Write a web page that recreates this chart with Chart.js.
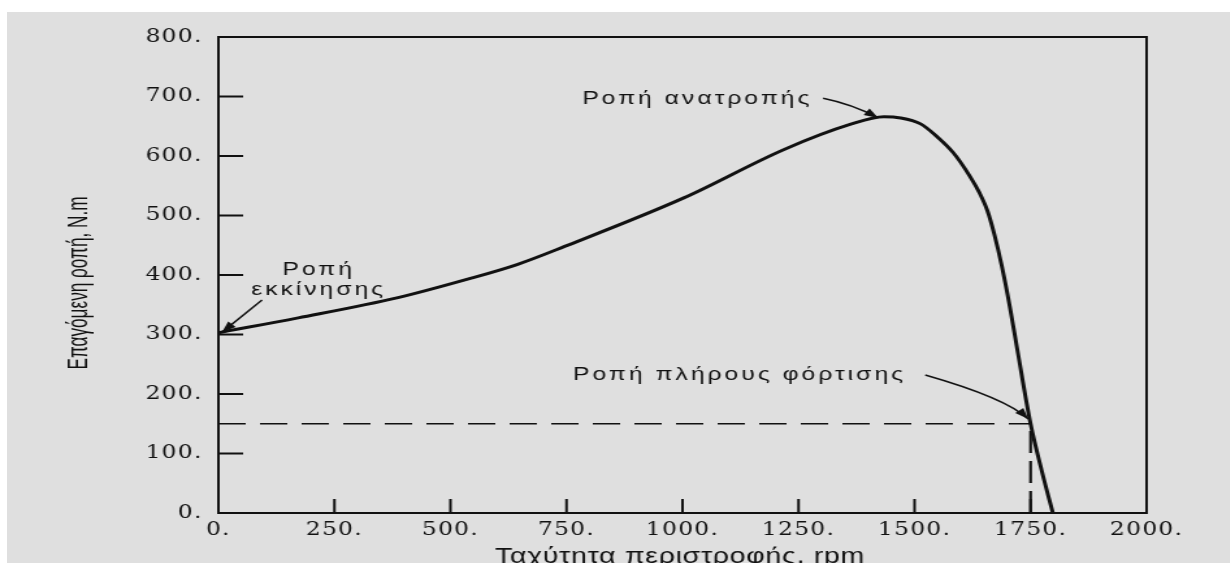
<!DOCTYPE html>
<html>
<head>
<meta charset="utf-8">
<script src="https://cdn.jsdelivr.net/npm/chart.js@4.4.1/dist/chart.umd.min.js"></script>
<style>
  html, body { margin: 0; padding: 0; background: #fff; }
  body { width: 1230px; height: 563px; overflow: hidden; position: relative; }
  .paper { position: absolute; left: 7px; top: 12px; right: 0; bottom: 0; background: #dfdfdf; }
  /* the scanned figure is stretched sideways, so the whole chart is too */
  .stretch { position: absolute; left: 0; top: 0; width: 946px; height: 563px;
             transform: scaleX(1.3); transform-origin: 0 0; }
</style>
</head>
<body>
<div class="paper"></div>
<div class="stretch"><canvas id="torque"></canvas></div>
<script>
// speed-torque curve of the induction motor
const speedRpm = [0, 172, 387, 537, 645, 746, 1004, 1219, 1361, 1434, 1470, 1513, 1545, 1584, 1620, 1640, 1657, 1672, 1688, 1705, 1722, 1750, 1775, 1798];
const torqueNm = [303, 328, 362, 393, 418, 448, 530, 611, 653, 666, 664, 654, 635, 605, 565, 538, 508, 468, 415, 348, 272, 150, 68, 0];

// full load operating point
const fullLoadRpm = 1750;
const fullLoadNm = 150;

// axes
const xMin = 0, xMax = 2000, xStep = 250;
const yMin = 0, yMax = 800, yStep = 100;
const xTitle = 'Ταχύτητα περιστροφής, rpm';
const yTitle = 'Επαγόμενη ροπή, N.m';

// labels with their arrows, in data units
const notes = [
  {lines: ['Ροπή ανατροπής'], at: [784, 697], align: 'left',
   arrow: {from: [1303, 697], via: [1366, 687], to: [1422, 664]}},
  {lines: ['Ροπή', 'εκκίνησης'], at: [216, 408], align: 'center',
   arrow: {from: [94, 358], to: [8, 304]}},
  {lines: ['Ροπή πλήρους φόρτισης'], at: [764, 232], align: 'left',
   arrow: {from: [1523, 232], via: [1698, 193], to: [1745, 158]}}
];

const INK = '#111';

function arrowHead(ctx, fx, fy, tx, ty){
  const a = Math.atan2(ty - fy, tx - fx);
  const len = 11, half = 4;
  ctx.beginPath();
  ctx.moveTo(tx, ty);
  ctx.lineTo(tx - len * Math.cos(a) + half * Math.sin(a), ty - len * Math.sin(a) - half * Math.cos(a));
  ctx.lineTo(tx - len * Math.cos(a) - half * Math.sin(a), ty - len * Math.sin(a) + half * Math.cos(a));
  ctx.closePath();
  ctx.fill();
}

const frameAndNotes = {
  id: 'frameAndNotes',
  beforeDraw(chart){
    // wide spacing for the tick numbers
    chart.ctx.letterSpacing = '1px';
  },
  beforeDatasetsDraw(chart){
    chart.ctx.letterSpacing = '0px';
  },
  afterDraw(chart){
    const {ctx, chartArea: a, scales: {x, y}} = chart;
    ctx.save();
    ctx.letterSpacing = '0px';
    ctx.strokeStyle = INK;
    ctx.fillStyle = INK;

    // box
    ctx.lineWidth = 2;
    ctx.strokeRect(a.left, a.top, a.right - a.left, a.bottom - a.top);

    // ticks pointing into the plot
    ctx.beginPath();
    y.ticks.forEach(t => {
      if(t.value <= yMin || t.value >= yMax) return;
      const py = y.getPixelForValue(t.value);
      ctx.moveTo(a.left, py);
      ctx.lineTo(a.left + 19, py);
    });
    x.ticks.forEach(t => {
      if(t.value <= xMin || t.value >= xMax) return;
      const px = x.getPixelForValue(t.value);
      ctx.moveTo(px, a.bottom);
      ctx.lineTo(px, a.bottom - 14);
    });
    ctx.stroke();

    // axis titles
    ctx.font = '22px "Liberation Sans", Arial, sans-serif';
    ctx.textAlign = 'center';
    ctx.textBaseline = 'alphabetic';
    ctx.letterSpacing = '0.5px';
    ctx.fillText(xTitle, (a.left + a.right) / 2 - 2, 563);
    ctx.letterSpacing = '0px';

    ctx.save();
    ctx.translate(61, 283);
    ctx.rotate(-Math.PI / 2);
    ctx.scale(0.78, 1);
    ctx.textBaseline = 'middle';
    ctx.fillText(yTitle, 0, 0);
    ctx.restore();

    // annotations
    ctx.font = '19px "Liberation Sans", Arial, sans-serif';
    ctx.letterSpacing = '2.3px';
    ctx.textBaseline = 'middle';
    notes.forEach(n => {
      ctx.textAlign = n.align;
      n.lines.forEach((line, i) => {
        ctx.fillText(line, x.getPixelForValue(n.at[0]), y.getPixelForValue(n.at[1]) + i * 20);
      });
      const f = [x.getPixelForValue(n.arrow.from[0]), y.getPixelForValue(n.arrow.from[1])];
      const t = [x.getPixelForValue(n.arrow.to[0]), y.getPixelForValue(n.arrow.to[1])];
      ctx.lineWidth = 1.5;
      ctx.beginPath();
      ctx.moveTo(f[0], f[1]);
      let back = f;
      if(n.arrow.via){
        const v = [x.getPixelForValue(n.arrow.via[0]), y.getPixelForValue(n.arrow.via[1])];
        ctx.quadraticCurveTo(v[0], v[1], t[0], t[1]);
        back = v;
      }else{
        ctx.lineTo(t[0], t[1]);
      }
      ctx.stroke();
      arrowHead(ctx, back[0], back[1], t[0], t[1]);
    });
    ctx.restore();
  }
};

const tickFont = {family: '"DejaVu Serif", "Liberation Serif", serif', size: 18};

new Chart(document.getElementById('torque'), {
  type: 'scatter',
  data: {
    datasets: [
      {
        data: speedRpm.map((s, i) => ({x: s, y: torqueNm[i]})),
        showLine: true,
        borderColor: INK,
        borderWidth: 3,
        pointRadius: 0,
        cubicInterpolationMode: 'monotone'
      },
      {
        data: [{x: xMin, y: fullLoadNm}, {x: fullLoadRpm, y: fullLoadNm}],
        showLine: true,
        borderColor: INK,
        borderWidth: 1.5,
        borderDash: [21, 11],
        pointRadius: 0
      },
      {
        data: [{x: fullLoadRpm, y: yMin}, {x: fullLoadRpm, y: fullLoadNm}],
        showLine: true,
        borderColor: INK,
        borderWidth: 2.2,
        borderDash: [22, 8],
        pointRadius: 0
      }
    ]
  },
  options: {
    responsive: true,
    maintainAspectRatio: false,
    animation: false,
    layout: {padding: {left: 0, top: 37, right: 64, bottom: 0}},
    plugins: {legend: {display: false}, tooltip: {enabled: false}},
    scales: {
      x: {
        type: 'linear',
        min: xMin, max: xMax,
        grid: {display: false, drawTicks: false},
        border: {display: false},
        ticks: {stepSize: xStep, autoSkip: false, maxRotation: 0, padding: 7,
                color: INK, font: tickFont, callback: v => v + '.'},
        afterFit: s => { s.height = 50; }
      },
      y: {
        type: 'linear',
        min: yMin, max: yMax,
        grid: {display: false, drawTicks: false},
        border: {display: false},
        ticks: {stepSize: yStep, autoSkip: false, padding: 12,
                color: INK, font: tickFont, callback: v => v + '.'},
        afterFit: s => { s.width = 168; }
      }
    }
  },
  plugins: [frameAndNotes]
});
</script>
</body>
</html>
